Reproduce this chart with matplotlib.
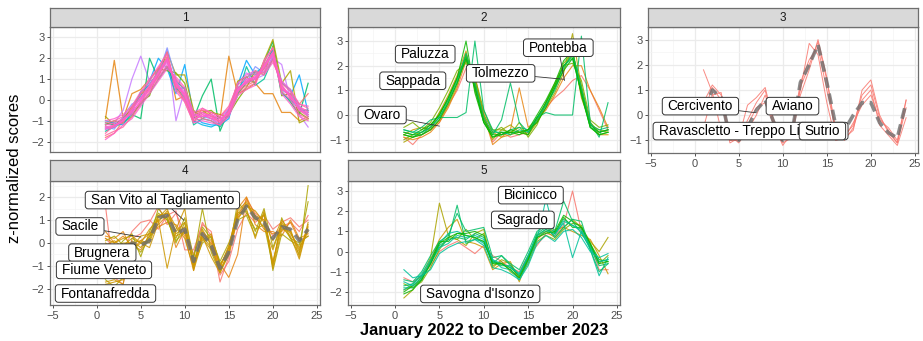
import numpy as np
import matplotlib.pyplot as plt
from matplotlib.patches import BoxStyle

plt.rcParams['font.family'] = ['Liberation Sans', 'DejaVu Sans']

months = np.arange(1, 25)

# ---- cluster 1 : many stations, full hue palette
c1_lines = [
    [-0.9, 1.9, -0.9, 0.3, 0.5, 1.0, 1.5, 2.0, 0.0, 0.2, -0.6, -0.5, -0.8, -0.9, 2.1, 0.3, 0.5, 0.8, 0.3, 0.3, -0.6, -0.6, -1.0, -0.8],
    [-1.2, -1.1, -0.5, 1.0, 2.1, 0.9, 1.1, 2.4, -1.0, 0.5, -0.7, -0.6, -0.9, -0.8, -0.5, 0.8, 1.3, 1.0, 1.2, 2.0, 1.7, 0.0, -0.7, -1.3],
    [-1.4, -1.3, -0.9, -0.4, 0.2, 0.9, 2.0, 1.5, 0.3, 1.7, -0.8, -1.1, -1.2, -1.2, -0.9, 0.7, 1.9, 1.2, 1.5, 2.4, 0.5, 0.2, 1.2, -0.6],
    [-1.1, -1.2, -0.9, -0.7, -0.9, 2.0, 1.0, 1.6, 0.6, 0.1, -0.9, 0.2, 1.0, -1.5, -0.5, 0.3, 0.8, 1.0, 1.8, 2.8, 0.4, -0.1, -0.7, 0.8],
    [-0.8, -1.2, -1.0, -0.3, 0.3, 0.5, 1.2, 2.3, 1.2, 1.2, -0.5, -0.9, -0.6, -0.7, -0.8, 0.9, 1.1, 0.8, 1.9, 2.9, 0.8, 1.4, -1.1, -0.9],
    [-1.5, -1.3, -1.1, -0.7, -0.2, 0.3, 1.0, 1.6, 0.9, 0.5, -1.2, -0.9, -1.0, -1.3, -0.7, 0.2, 1.6, 0.7, 1.0, 2.0, 0.8, 0.5, -0.5, -0.5],
    [-1.2, -1.0, -1.1, -0.8, -0.1, 0.2, 1.5, 1.4, 1.3, 0.8, -0.9, -0.6, -0.5, -0.9, -0.7, 0.0, 0.6, 1.4, 1.2, 2.6, 0.2, 0.3, -0.6, -0.9],
    [-1.8, -1.6, -1.0, -0.5, 0.3, 0.6, 1.1, 2.1, 0.7, -0.1, -1.1, -0.4, -0.7, -1.1, -0.5, 0.4, 0.7, 0.9, 1.5, 2.3, 0.7, 0.1, -0.2, 0.3],
    [-1.3, -1.4, -0.8, -0.2, 0.0, 0.8, 1.2, 2.5, 1.0, 0.0, -0.7, -0.8, -0.9, -1.2, -0.4, 0.6, 0.8, 1.6, 1.3, 2.1, 0.9, 0.4, -0.3, -0.8],
    [-1.0, -1.1, -1.2, -0.6, 0.4, 0.7, 1.4, 1.9, 0.5, 0.6, -1.0, -1.2, -1.3, -1.1, -0.8, 0.5, 1.1, 1.3, 1.6, 2.4, 0.3, 0.0, -0.4, -0.7],
    [-1.4, -1.2, -1.0, -0.5, 0.1, 0.5, 1.3, 1.8, 0.8, 0.4, -0.9, -0.8, -0.7, -0.9, -0.7, 0.4, 1.0, 1.0, 1.7, 2.1, 0.5, 0.2, -0.5, -0.7],
    [-1.9, -1.6, -1.2, -0.9, -0.3, 0.3, 0.9, 1.5, 1.1, 0.6, -0.6, -0.4, -0.6, -0.8, -0.4, 0.8, 1.2, 1.4, 1.2, 1.8, 0.9, 0.5, -0.2, -0.3],
    [-1.3, -1.3, -0.9, -0.6, -0.1, 0.6, 1.2, 1.9, 0.8, 0.1, -0.8, -0.6, -0.8, -1.0, -0.6, 0.6, 0.8, 1.2, 1.5, 2.2, 0.7, 0.1, -0.4, -0.5],
    [-1.0, -0.9, -0.7, -0.3, 0.4, 1.0, 1.6, 2.2, 0.4, -0.1, -1.1, -1.0, -1.1, -1.2, -0.8, 0.2, 0.5, 0.7, 1.9, 2.5, 0.3, -0.2, -0.8, -1.0],
    [-1.6, -1.2, -1.1, -0.4, 0.1, 0.7, 1.4, 2.0, 0.6, 0.3, -1.0, -0.7, -0.9, -1.0, -0.5, 0.4, 0.9, 1.0, 1.7, 2.3, 0.5, 0.3, -0.5, -0.8],
    [-1.2, -1.1, -0.9, -0.7, 0.0, 0.5, 1.1, 1.7, 0.9, 0.2, -0.7, -0.8, -0.7, -0.9, -0.6, 0.5, 0.9, 1.1, 1.4, 2.0, 0.6, 0.2, -0.3, -0.6],
    [-1.7, -1.5, -1.3, -0.8, -0.2, 0.4, 1.0, 1.6, 1.0, 0.5, -0.7, -0.5, -0.6, -0.8, -0.3, 0.7, 1.1, 1.3, 1.3, 1.9, 0.8, 0.4, -0.2, -0.4],
    [-1.4, -1.3, -1.0, -0.5, 0.1, 0.7, 1.3, 2.0, 0.7, 0.2, -0.9, -0.7, -0.9, -1.1, -0.6, 0.4, 1.0, 1.1, 1.6, 2.3, 0.6, 0.1, -0.4, -0.7],
    [-1.1, -1.0, -0.8, -0.4, 0.3, 0.9, 1.5, 2.3, 0.5, 0.0, -1.0, -0.9, -1.0, -1.2, -0.7, 0.3, 0.6, 0.8, 1.8, 2.5, 0.4, 0.0, -0.7, -0.9],
    [-1.3, -1.2, -1.0, -0.6, -0.1, 0.5, 1.3, 1.9, 0.8, 0.3, -0.8, -0.6, -0.8, -1.0, -0.6, 0.5, 0.8, 1.0, 1.6, 2.2, 0.7, 0.2, -0.5, -0.6],
]
c1_colors = ['#E68613', '#C77CFF', '#00A9FF', '#00BE67', '#ABA300', '#00C19A', '#7CAE00', '#F8766D',
             '#8494FF', '#00B8E7', '#ED68ED', '#FF61CC', '#FF68A1', '#FF61CC', '#FF68A1', '#FF61CC',
             '#FF68A1', '#FF61CC', '#FF68A1', '#FF61CC']

# ---- cluster 2 : alpine stations
c2_lines = [
    [-0.9, -1.2, -0.8, -0.6, -0.3, 0.4, 1.0, 1.9, 1.3, 0.1, -1.1, -0.7, -0.9, -0.8, -0.7, -0.2, 0.3, 0.7, 1.0, 1.4, 1.6, 1.0, 0.2, -0.6],
    [-0.9, -1.0, -0.9, -0.7, -0.3, 0.3, 1.1, 2.2, 1.6, 0.0, -1.2, -0.9, -0.6, 1.1, -0.5, -0.2, 0.2, 0.8, 1.5, 2.0, 2.0, 1.0, 0.3, -0.5],
    [-0.8, -0.6, -0.5, -0.6, 0.1, 0.8, 1.6, 2.6, 1.0, -0.2, -0.7, -0.9, -0.8, -0.7, -0.6, -0.3, 0.5, 1.2, 1.8, 2.7, 0.7, -0.3, -0.8, -0.8],
    [-1.1, -0.9, -0.8, -0.6, -0.2, 0.4, 1.2, 2.5, 1.3, -0.1, -1.0, -0.6, -0.4, -0.7, -0.8, -0.3, 0.3, 0.9, 1.7, 3.3, 1.1, -0.4, -0.6, -0.7],
    [-0.5, -0.3, -0.6, -0.3, 0.3, 1.0, 1.8, 2.1, 1.5, 0.2, -0.7, -0.5, -0.8, -0.3, -0.9, -0.4, 0.5, 1.3, 2.0, 2.1, 1.4, -0.2, -0.5, -0.4],
    [-1.0, -0.8, -0.7, -0.5, 0.1, 0.6, 1.5, 2.2, 1.4, 0.0, -0.6, -0.6, -0.7, -0.5, -0.8, -0.2, 0.5, 1.2, 2.1, 2.5, 1.2, -0.3, -0.7, -0.6],
    [-0.6, -0.7, -0.5, -0.2, -0.1, -0.1, -0.1, 0.1, 3.0, 0.2, -0.6, -0.8, -0.6, -0.5, -0.6, -0.1, 0.1, 0.0, 0.0, 0.0, 3.2, -0.3, -0.9, 0.5],
    [-0.7, -0.8, -0.8, -0.5, -0.1, 0.5, 1.3, 2.3, 1.1, -0.3, -0.8, -0.2, 1.3, -0.3, -0.7, -0.1, 0.4, 1.1, 2.0, 2.3, 0.9, -0.5, -0.7, -0.6],
    [-0.8, -0.9, -0.7, -0.4, 0.0, 0.7, 1.5, 3.0, 0.9, -0.3, -0.9, -0.8, -0.7, -0.8, -0.6, 0.0, 0.6, 1.3, 2.2, 2.6, 0.8, -0.5, -0.8, -0.7],
    [-0.7, -0.8, -0.6, -0.4, 0.0, 0.7, 1.5, 2.4, 1.2, -0.2, -0.8, -0.8, -0.6, -0.7, -0.8, -0.1, 0.5, 1.2, 2.0, 2.4, 1.0, -0.4, -0.7, -0.6],
    [-0.6, -0.7, -0.7, -0.5, -0.1, 0.6, 1.4, 2.5, 1.3, -0.1, -0.7, -0.7, -0.8, -0.6, -0.7, -0.2, 0.4, 1.0, 1.9, 2.5, 1.1, -0.4, -0.6, -0.5],
    [-0.8, -0.9, -0.8, -0.6, -0.2, 0.5, 1.3, 2.3, 1.1, -0.3, -0.9, -0.7, -0.7, -0.7, -0.6, -0.3, 0.3, 1.1, 1.8, 2.3, 0.9, -0.5, -0.8, -0.7],
]
c2_colors = ['#F8766D', '#E68613', '#CD9600', '#ABA300', '#7CAE00', '#7CAE00', '#00BE67',
             '#00BE67', '#0CB702', '#0CB702', '#00BE67', '#0CB702']

# ---- cluster 3 : few stations plus cluster centre
c3_lines = [
    [1.8, 0.9, -0.6, -1.0, -0.9, 0.4, 0.7, 1.1, -0.3, -1.0, -0.6, 1.0, 2.85, 2.4, 0.5, -1.0, -0.9, -0.6, 1.0, 1.4, 0.0, -0.7, -1.1, 0.6],
    [0.5, 1.2, 0.8, -1.0, -1.0, -0.2, 0.5, 1.0, -0.5, -1.1, -0.9, 0.8, 1.8, 3.0, 1.5, -0.8, -0.8, -0.4, 0.8, 1.2, -0.1, -0.6, -1.1, 0.3],
    [-0.5, 0.8, 0.9, -0.8, -1.1, -0.6, 0.0, 0.8, -0.2, -0.9, -0.8, 1.3, 2.2, 2.7, 1.0, -0.6, -0.9, -0.3, 0.4, 0.8, -0.2, -0.5, -1.0, 0.6],
    [0.1, 1.1, 0.6, -1.1, -0.9, -0.4, 0.3, 0.5, -0.4, -1.2, -0.7, 1.1, 2.0, 2.9, 1.4, -0.5, -1.0, -0.5, 0.6, 1.0, -0.4, -0.8, -1.2, -0.1],
]
c3_colors = ['#F8766D'] * 4
c3_centre = [0.2, 1.0, 0.7, -0.9, -1.0, -0.5, 0.2, 0.6, -0.3, -1.0, -0.8, 1.3, 2.0, 2.8, 1.3, -0.4, -0.6, 0.0, 0.5, 0.5, -0.3, -0.7, -0.9, 0.5]

# ---- cluster 4 : western plain
c4_lines = [
    [1.6, -1.5, -1.8, 0.2, 0.4, 0.9, 1.6, 0.8, 1.3, 0.4, -0.5, 0.9, 0.3, -1.7, -0.6, 1.1, 1.9, 1.3, 1.0, 0.3, 0.7, 0.9, 0.5, 1.2],
    [0.2, -0.2, -0.4, 0.5, 0.9, 1.0, 0.6, 1.2, 1.4, -0.3, -0.3, 0.8, 0.5, -1.4, -0.8, 0.6, 1.3, 0.9, 1.2, 0.6, 0.9, 1.1, 0.7, 1.0],
    [0.3, 0.2, 0.5, -0.3, 0.1, 0.4, 0.8, 1.2, -0.2, 0.6, -0.9, 0.4, 0.0, -0.9, -1.5, -0.5, 2.0, 1.2, 0.6, 0.4, 0.5, 0.9, 0.1, 0.3],
    [0.5, 0.0, 0.3, -0.1, -0.3, 0.3, 0.7, 0.9, 0.8, 0.3, -1.2, 0.5, 0.1, -1.0, -0.2, 1.5, 2.0, 0.8, 0.5, 0.5, 0.3, 1.0, 0.2, 0.4],
    [-1.6, -1.9, -1.5, 0.0, -0.4, 0.2, 1.5, 1.0, 0.1, 0.5, -0.7, 1.5, -0.4, -1.3, -0.5, 1.8, 1.3, 0.6, 0.8, -1.0, 1.1, 0.2, -0.5, 2.5],
    [-0.2, -0.4, 0.1, 0.4, -0.6, 0.5, 1.3, 1.0, 0.2, 1.1, -0.6, 0.7, 0.2, -0.8, 0.0, 1.0, 1.2, 0.3, 1.3, -1.2, 0.4, 0.1, -0.1, 1.8],
    [0.1, 0.3, -0.1, 0.2, 0.0, 0.1, 1.2, 1.1, 0.0, 0.9, -1.0, 0.0, 0.3, -0.9, -0.4, 1.3, 1.4, 0.5, 1.5, -0.2, 0.8, 0.2, 0.0, 0.3],
    [-1.7, -1.6, -1.8, 0.1, -0.2, 0.3, 1.2, 1.3, 0.5, 0.9, -1.0, 0.3, -0.2, -1.2, -0.4, 1.3, 1.7, 1.0, 1.2, -0.9, 0.9, 0.4, -0.2, 0.5],
    [-1.8, -1.7, -1.6, -0.3, 0.0, 0.6, 1.0, -1.1, 0.6, 1.5, -1.2, 0.1, 0.4, -1.0, -0.2, 1.1, 1.5, 0.2, 1.4, -1.1, 0.6, 0.5, -0.3, 0.7],
    [0.0, -0.3, 0.0, 0.0, 0.1, 0.0, 1.1, 1.5, 0.4, 0.7, -0.9, 0.2, -0.3, -1.2, -0.5, 1.2, 1.6, 1.4, 0.9, 0.1, 1.0, 0.5, -0.4, 0.6],
    [-0.1, 0.1, -0.2, -0.2, 0.3, 0.4, 1.0, 1.3, 0.3, 0.5, -0.8, 0.3, -0.6, -1.3, -0.3, 1.0, 1.7, 1.2, 1.0, -0.8, 0.7, 0.3, -0.7, 0.8],
    [0.2, 0.0, 0.2, 0.3, 0.0, -0.2, 0.9, 1.4, 0.7, 0.2, -1.1, 0.6, -0.1, -1.1, -0.1, 1.4, 1.8, 1.1, 0.7, -0.3, 0.8, 0.6, -0.6, 0.9],
]
c4_colors = ['#F8766D', '#F8766D', '#E68613', '#E68613', '#ABA300', '#ABA300', '#ABA300',
             '#CD9600', '#CD9600', '#CD9600', '#CD9600', '#CD9600']
c4_centre = [-0.6, -0.9, -0.7, 0.0, -0.1, 0.1, 1.1, 1.2, 0.4, 0.6, -0.8, 0.4, -0.1, -1.1, -0.4, 1.0, 1.6, 1.1, 0.9, 0.2, 0.7, 0.6, 0.1, 0.6]

# ---- cluster 5 : eastern plain
c5_lines = [
    [-1.3, -1.5, -1.2, -0.7, 0.0, 0.3, 0.5, 0.2, -0.1, 0.3, -0.2, -0.5, -0.8, -1.0, -0.2, 0.3, 0.9, 0.8, 1.3, 3.0, 1.0, 0.4, -0.9, -0.9],
    [-1.9, -1.7, -1.4, -0.4, 0.6, 1.2, 1.6, 0.5, 0.4, 0.2, -0.9, -0.6, -0.5, -1.5, -0.4, 0.6, 1.0, 1.1, 1.2, 1.0, 0.8, 0.6, -0.2, -1.1],
    [-2.3, -1.9, -1.2, -0.3, 2.4, 0.8, 0.6, 0.3, 0.9, 1.1, -0.8, -0.4, -0.6, -1.3, -0.4, 0.8, 1.0, 0.7, 1.2, 1.6, 1.2, 0.5, 0.0, 0.7],
    [-1.6, -1.8, -1.5, -0.8, 0.1, 0.7, 0.6, 1.1, 0.6, 0.9, -0.7, -0.5, -1.0, -1.3, -0.6, 0.5, 0.8, 0.6, 1.1, 1.4, 1.3, 0.3, -0.6, -0.2],
    [-1.8, -1.8, -1.4, -0.6, 0.2, 0.6, 2.3, 0.4, 0.6, 0.5, -0.6, -0.2, -0.7, -1.1, -0.2, 0.9, 1.2, 1.0, 2.5, 1.5, 0.9, 0.2, -0.7, -0.6],
    [-1.9, -1.6, -1.1, -0.4, 0.4, 0.9, 1.0, 0.8, 0.7, 0.4, -0.4, -0.8, -0.9, -1.4, -0.5, 0.6, 2.6, 0.9, 1.4, -0.3, 1.0, 0.1, -1.2, -0.3],
    [-2.0, -1.7, -1.3, -0.5, 0.5, 0.5, 0.9, 0.9, 1.0, 0.8, -0.5, -0.6, -0.8, -1.2, -0.3, 0.8, 1.1, 0.9, 1.7, 1.2, 1.2, 0.4, -0.4, -0.5],
    [-1.7, -1.6, -1.2, -0.6, 0.3, 0.6, 0.7, 0.6, 0.9, 0.7, -0.5, -0.7, -0.7, -1.2, -0.3, 0.7, 1.0, 0.9, 1.6, 1.3, 1.1, 0.3, -0.5, -0.4],
    [-1.5, -1.7, -1.3, -0.5, 0.2, 0.4, 0.8, 0.7, 0.8, 0.6, -0.4, -0.6, -0.8, -1.1, -0.2, 0.8, 1.1, 0.8, 1.5, 1.3, 1.0, 0.2, -0.5, -0.4],
    [-2.1, -1.9, -1.4, -0.6, 0.4, 0.7, 0.9, 0.8, 0.7, 0.5, -0.6, -0.6, -0.9, -1.3, -0.4, 0.7, 0.9, 1.0, 1.8, 1.5, 1.2, 0.4, -0.6, -0.5],
    [-1.4, -1.5, -1.0, -0.2, 0.5, 0.8, 1.9, 1.0, 1.1, 1.2, -0.3, -0.2, -0.6, -0.9, 0.0, 1.0, 1.3, 0.7, 1.2, 1.6, 1.5, 0.1, -1.0, -0.6],
    [-0.9, -1.3, -1.2, -0.9, -0.1, 0.2, 0.4, 0.5, 0.6, 0.3, -0.8, -0.9, -1.1, -1.4, -0.7, 0.4, 0.8, 0.5, 1.0, 1.1, 0.7, 0.0, -0.3, -0.1],
]
c5_colors = ['#F8766D', '#CD9600', '#ABA300', '#7CAE00', '#00BE67', '#00C19A', '#0CB702',
             '#00BE67', '#00C19A', '#0CB702', '#00BE67', '#00C19A']

# station names shown on each panel
c2_names = ['Paluzza', 'Sappada', 'Tolmezzo', 'Pontebba', 'Ovaro']
c3_names = ['Cercivento', 'Aviano', 'Ravascletto - Treppo Ligosullo', 'Sutrio']
c4_names = ['San Vito al Tagliamento', 'Sacile', 'Brugnera', 'Fiume Veneto', 'Fontanafredda']
c5_names = ['Bicinicco', 'Sagrado', "Savogna d'Isonzo"]

# label placement: (text x, text y, point x, point y or None, ha)
c2_place = [(3.4, 2.47, None, None, 'center'), (2.0, 1.39, None, None, 'center'),
            (11.9, 1.69, 19.0, 1.45, 'center'), (18.4, 2.73, 19.1, 1.4, 'center'),
            (-1.45, 0.0, 5.0, -0.45, 'center')]
c3_place = [(0.65, 0.36, 6.9, 0.1, 'center'), (11.1, 0.36, None, None, 'center'),
            (-4.1, -0.63, None, None, 'left'), (14.5, -0.63, None, None, 'center')]
c4_place = [(7.46, 1.87, 9.9, 0.99, 'center'), (-1.9, 0.72, 5.0, 0.26, 'center'),
            (0.64, -0.42, None, None, 'center'), (0.83, -1.17, None, None, 'center'),
            (1.0, -2.2, None, None, 'center')]
c5_place = [(15.3, 2.8, None, None, 'center'), (14.4, 1.57, None, None, 'center'),
            (9.6, -2.1, None, None, 'center')]

W, H = 923, 341
fig = plt.figure(figsize=(W / 100, H / 100), dpi=100)


def px_axes(x0, y0, x1, y1):
    return fig.add_axes([x0 / W, 1 - y1 / H, (x1 - x0) / W, (y1 - y0) / H])


def label_box(x0, y0, width, height, mutation_size):
    # wide horizontal padding, slim vertical padding, like geom_label
    padx = 0.4 * mutation_size
    pady = 0.13 * mutation_size
    return BoxStyle.Round(pad=0, rounding_size=0.22)(
        x0 - padx, y0 - pady, width + 2 * padx, height + 2 * pady, mutation_size)


panels = [
    # name, panel box px, strip box px, ylim, yticks, lines, colours, centre, names, placement, x labels, lw
    ('1', (50, 27, 320, 152), (50, 8, 320, 27), (-2.22, 3.22), range(-2, 4), c1_lines, c1_colors, None, [], [], False, 0.9),
    ('2', (348, 27, 620, 152), (348, 8, 620, 27), (-1.49, 3.57), range(-1, 4), c2_lines, c2_colors, None, c2_names, c2_place, False, 0.8),
    ('3', (648, 27, 918, 153), (648, 8, 918, 27), (-1.37, 3.26), range(-1, 4), c3_lines, c3_colors, c3_centre, c3_names, c3_place, True, 0.7),
    ('4', (50, 181, 320, 305), (50, 160, 320, 181), (-2.7, 2.7), range(-2, 3), c4_lines, c4_colors, c4_centre, c4_names, c4_place, True, 0.8),
    ('5', (348, 181, 620, 305), (348, 160, 620, 181), (-2.65, 3.5), range(-2, 4), c5_lines, c5_colors, None, c5_names, c5_place, True, 0.8),
]

for name, pbox, sbox, ylim, yticks, lines, cols, centre, names, place, show_x, lw in panels:
    ax = px_axes(*pbox)
    ax.set_facecolor('white')
    ax.set_xlim(-5.3, 25.35)
    ax.set_ylim(*ylim)
    ax.set_xticks(range(-5, 26, 5))
    ax.set_xticks(np.arange(-2.5, 25, 5), minor=True)
    ax.set_yticks(list(yticks))
    ax.set_yticks(np.arange(yticks[0] - 0.5, yticks[-1] + 0.6, 1.0), minor=True)
    ax.grid(True, which='major', color='#EBEBEB', lw=0.9)
    ax.grid(True, which='minor', color='#F4F4F4', lw=0.5)
    ax.set_axisbelow(True)
    for sp in ax.spines.values():
        sp.set_color('#6E6E6E')
        sp.set_linewidth(0.9)
    ax.tick_params(which='major', length=2.5, width=0.6, color='#333333', labelsize=8,
                   labelcolor='#4D4D4D', pad=1.5)
    ax.tick_params(which='minor', length=0)
    if not show_x:
        ax.tick_params(axis='x', which='major', length=0, labelbottom=False)

    for ys, c in zip(lines, cols):
        ax.plot(months, ys, color=c, lw=lw, alpha=0.85, zorder=2)
    if centre is not None:
        ax.plot(months, centre, color='#6E6E6E', lw=2.6, alpha=0.8, dashes=(3, 1.6), zorder=3)

    for i, (txt, (tx, ty, px, py, ha)) in enumerate(zip(names, place)):
        bbox = dict(boxstyle=label_box, fc='white', ec='#333333', lw=0.7)
        if px is None:
            ax.text(tx, ty, txt, ha=ha, va='center', fontsize=9.8, color='black',
                    bbox=bbox, zorder=5 + i)
        else:
            ax.annotate(txt, xy=(px, py), xytext=(tx, ty), ha=ha, va='center', fontsize=9.8,
                        color='black', bbox=bbox, zorder=5 + i,
                        arrowprops=dict(arrowstyle='-', color='#333333', lw=0.6,
                                        shrinkA=0, shrinkB=0))

    sax = px_axes(*sbox)
    sax.set_facecolor('#D9D9D9')
    sax.set_xticks([])
    sax.set_yticks([])
    for sp in sax.spines.values():
        sp.set_color('#6E6E6E')
        sp.set_linewidth(0.9)
    sax.text(0.5, 0.48, name, ha='center', va='center', fontsize=8.5, color='#1A1A1A',
             transform=sax.transAxes)

fig.text(15 / W, 1 - 168 / H, 'z-normalized scores', rotation=90, ha='center', va='center',
         fontsize=12, color='black')
fig.text(484 / W, 1 - 331 / H, 'January 2022 to December 2023', ha='center', va='center',
         fontsize=11.8, fontweight='bold', color='black')

fig.savefig('out.png', dpi=100)
